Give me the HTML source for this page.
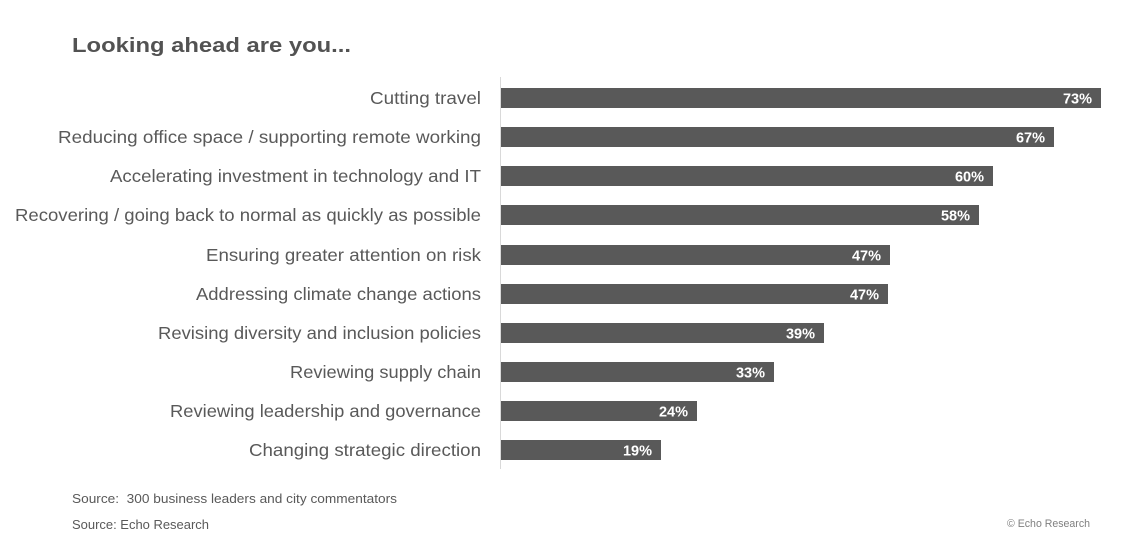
<!DOCTYPE html>
<html>
<head>
<meta charset="utf-8">
<style>
html,body{margin:0;padding:0;background:#fff;}
svg{display:block;}
text{font-family:"Liberation Sans",sans-serif;}
</style>
</head>
<body>
<svg width="1135" height="552" viewBox="0 0 1135 552" xmlns="http://www.w3.org/2000/svg">
<rect width="1135" height="552" fill="#fff"/>
<text x="72" y="52" font-size="20" font-weight="bold" fill="#525252" textLength="279" lengthAdjust="spacingAndGlyphs">Looking ahead are you...</text>

<line x1="500.5" y1="77" x2="500.5" y2="469" stroke="#d9d9d9" stroke-width="1"/>

<g fill="#595959">
<rect x="501" y="88" width="600" height="20"/>
<rect x="501" y="127" width="553" height="20"/>
<rect x="501" y="166" width="492" height="20"/>
<rect x="501" y="205" width="478" height="20"/>
<rect x="501" y="245" width="389" height="20"/>
<rect x="501" y="284" width="387" height="20"/>
<rect x="501" y="323" width="323" height="20"/>
<rect x="501" y="362" width="273" height="20"/>
<rect x="501" y="401" width="196" height="20"/>
<rect x="501" y="440" width="160" height="20"/>
</g>

<g font-size="14.5" font-weight="bold" fill="#fff" text-anchor="end">
<text x="1092" y="103.5">73%</text>
<text x="1045" y="142.5">67%</text>
<text x="984" y="181.5">60%</text>
<text x="970" y="220.5">58%</text>
<text x="881" y="260.5">47%</text>
<text x="879" y="299.5">47%</text>
<text x="815" y="338.5">39%</text>
<text x="765" y="377.5">33%</text>
<text x="688" y="416.5">24%</text>
<text x="652" y="455.5">19%</text>
</g>

<g font-size="17.5" fill="#595959">
<text x="370" y="104" textLength="111" lengthAdjust="spacingAndGlyphs">Cutting travel</text>
<text x="58" y="143" textLength="423" lengthAdjust="spacingAndGlyphs">Reducing office space / supporting remote working</text>
<text x="110" y="182" textLength="371" lengthAdjust="spacingAndGlyphs">Accelerating investment in technology and IT</text>
<text x="15" y="221" textLength="466" lengthAdjust="spacingAndGlyphs">Recovering / going back to normal as quickly as possible</text>
<text x="206" y="261" textLength="275" lengthAdjust="spacingAndGlyphs">Ensuring greater attention on risk</text>
<text x="196" y="300" textLength="285" lengthAdjust="spacingAndGlyphs">Addressing climate change actions</text>
<text x="158" y="339" textLength="323" lengthAdjust="spacingAndGlyphs">Revising diversity and inclusion policies</text>
<text x="290" y="378" textLength="191" lengthAdjust="spacingAndGlyphs">Reviewing supply chain</text>
<text x="170" y="417" textLength="311" lengthAdjust="spacingAndGlyphs">Reviewing leadership and governance</text>
<text x="249" y="456" textLength="232" lengthAdjust="spacingAndGlyphs">Changing strategic direction</text>
</g>

<g font-size="13" fill="#595959">
<text x="72" y="503" textLength="325" lengthAdjust="spacingAndGlyphs">Source:&#160; 300 business leaders and city commentators</text>
<text x="72" y="529" textLength="137" lengthAdjust="spacingAndGlyphs">Source: Echo Research</text>
</g>
<text x="1007" y="527" font-size="11" fill="#7f7f7f" textLength="83" lengthAdjust="spacingAndGlyphs">© Echo Research</text>
</svg>
</body>
</html>
